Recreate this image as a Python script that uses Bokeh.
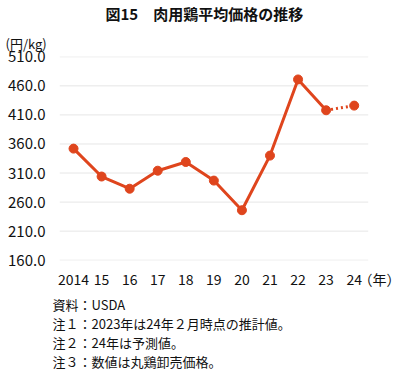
from bokeh.plotting import figure
from bokeh.models import FixedTicker, NumeralTickFormatter, Range1d, Title
from bokeh.embed import file_html
from bokeh.resources import INLINE

years = [2014, 2015, 2016, 2017, 2018, 2019, 2020, 2021, 2022, 2023, 2024]
year_labels = ["2014", "15", "16", "17", "18", "19", "20", "21", "22", "23", "24"]
prices = [352, 304, 283, 314, 329, 297, 246, 340, 471, 418, 426]
y_ticks = [160, 210, 260, 310, 360, 410, 460, 510]
title_text = "図15　肉用鶏平均価格の推移"
unit_text = "(円/kg)"
year_unit = "（年）"
notes = ["資料：USDA", "注１：2023年は24年２月時点の推計値。", "注２：24年は予測値。", "注３：数値は丸鶏卸売価格。"]

JP = "Noto Sans CJK JP"
COLOR = "#DF451D"
TXT = "#111111"

X0, X1 = 2013.5, 2024.5          # extent of the plotting area (grid lines)
XMAX = 2025.65                   # extra room on the right for the unit label
UNIT_POS = 2024.93

W, H = 400, 372

p = figure(width=W, height=H, output_backend="svg", toolbar_location=None,
           x_range=Range1d(X0, XMAX), y_range=Range1d(159.5, 510.5),
           min_border_left=59, min_border_right=0,
           min_border_top=56, min_border_bottom=110)
p.outline_line_color = None
p.background_fill_color = "white"
p.border_fill_color = "white"
p.xgrid.grid_line_color = None
p.ygrid.grid_line_color = None

# horizontal grid lines across the plotting area only
p.segment(x0=[X0] * len(y_ticks), x1=[X1] * len(y_ticks), y0=y_ticks, y1=y_ticks,
          line_color="#E6E6E6", line_width=1)

p.yaxis.ticker = FixedTicker(ticks=y_ticks)
p.yaxis.formatter = NumeralTickFormatter(format="0.0")
p.xaxis.ticker = FixedTicker(ticks=years + [UNIT_POS])
overrides = {y: l for y, l in zip(years, year_labels)}
overrides[UNIT_POS] = year_unit
p.xaxis.major_label_overrides = overrides
for ax in (p.xaxis[0], p.yaxis[0]):
    ax.axis_line_color = None
    ax.major_tick_line_color = None
    ax.minor_tick_line_color = None
    ax.major_tick_out = 0
    ax.major_tick_in = 0
    ax.major_label_text_font = JP
    ax.major_label_text_color = TXT
p.xaxis.major_label_text_font_size = "14px"
p.yaxis.major_label_text_font_size = "15px"
p.yaxis.major_label_standoff = 14
p.xaxis.major_label_standoff = 8

p.line(years[:-1], prices[:-1], line_color=COLOR, line_width=3)
p.line(years[-2:], prices[-2:], line_color=COLOR, line_width=3, line_dash="2 3")
p.scatter(years, prices, size=9, fill_color=COLOR, line_color=COLOR)

p.add_layout(Title(text=unit_text, align="left", offset=-54, text_font=JP,
                   text_font_size="13px", text_font_style="normal", text_color=TXT,
                   standoff=7), "above")
p.add_layout(Title(text=title_text, align="left", offset=46, text_font=JP,
                   text_font_size="15px", text_font_style="bold", text_color=TXT,
                   text_line_height=0.75, vertical_align="top", standoff=5), "above")
p.add_layout(Title(text="\n".join(notes), align="left", offset=-7, text_font=JP,
                   text_font_size="13px", text_font_style="normal",
                   text_line_height=1.0, text_color=TXT, standoff=3), "below")

open("out.html", "w").write(file_html(p, INLINE))
